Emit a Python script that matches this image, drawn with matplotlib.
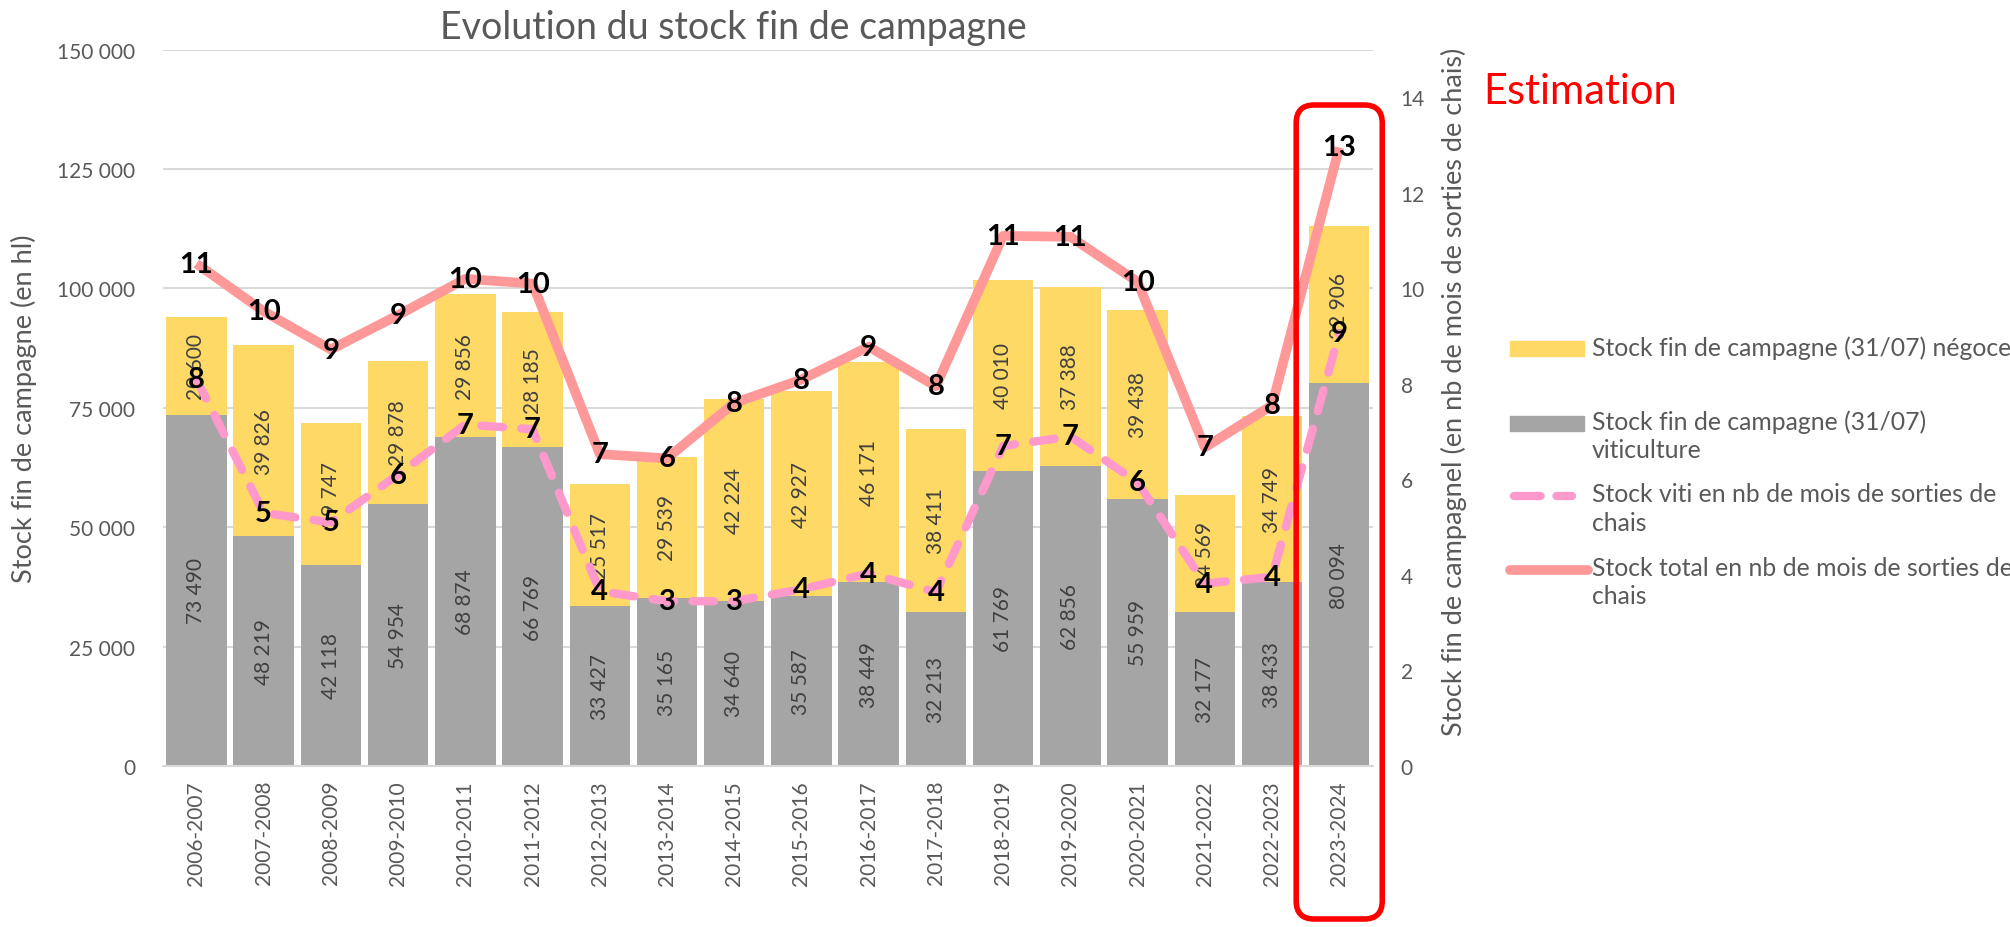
# Evolution du stock fin de campagne - bars empilés + lignes en mois de sorties

import matplotlib
matplotlib.use('Agg')
import matplotlib.pyplot as plt
import matplotlib.patches as patches
from matplotlib.lines import Line2D
from matplotlib.transforms import IdentityTransform
from matplotlib.ticker import FuncFormatter

campagnes = ['2006-2007', '2007-2008', '2008-2009', '2009-2010', '2010-2011', '2011-2012',
             '2012-2013', '2013-2014', '2014-2015', '2015-2016', '2016-2017', '2017-2018',
             '2018-2019', '2019-2020', '2020-2021', '2021-2022', '2022-2023', '2023-2024']
stock_viti = [73490, 48219, 42118, 54954, 68874, 66769, 33427, 35165, 34640, 35587, 38449,
              32213, 61769, 62856, 55959, 32177, 38433, 80094]
stock_negoce = [20600, 39826, 29747, 29878, 29856, 28185, 25517, 29539, 42224, 42927, 46171,
                38411, 40010, 37388, 39438, 24569, 34749, 32906]
mois_viti = [8.1, 5.3, 5.1, 6.1, 7.15, 7.05, 3.66, 3.45, 3.45, 3.7, 4.03, 3.64, 6.7, 6.9,
             5.94, 3.82, 3.96, 9.06]
mois_total = [10.52, 9.52, 8.72, 9.44, 10.2, 10.1, 6.53, 6.44, 7.6, 8.09, 8.78, 7.95, 11.1,
              11.08, 10.14, 6.67, 7.55, 12.95]

legend_labels = ['Stock fin de campagne (31/07) négoce',
                 'Stock fin de campagne (31/07)\nviticulture',
                 'Stock viti en nb de mois de sorties de\nchais',
                 'Stock total en nb de mois de sorties de\nchais']

YELLOW = '#FFD966'
GREY = '#A5A5A5'
PINK = '#FF99CC'
RED_LINE = '#FF9999'
TXT = '#595959'

plt.rcParams['font.family'] = ['Lato', 'DejaVu Sans']

fig = plt.figure(figsize=(20.1, 9.28), dpi=100)
ax = fig.add_axes([0.081, 0.1735, 0.602, 0.772])
x = list(range(len(campagnes)))

ax.bar(x, stock_viti, width=0.9, color=GREY, zorder=2)
ax.bar(x, stock_negoce, width=0.9, bottom=stock_viti, color=YELLOW, zorder=2)


def fmt_num(v):
    return f'{int(round(v)):,}'.replace(',', ' ')


for i in x:
    ax.text(i, stock_viti[i] / 2, fmt_num(stock_viti[i]), rotation=90, ha='center',
            va='center', color='#404040', fontsize=15, zorder=3)
    ax.text(i, stock_viti[i] + stock_negoce[i] / 2, fmt_num(stock_negoce[i]), rotation=90,
            ha='center', va='center', color='#404040', fontsize=15, zorder=3)

ax.set_xlim(-0.5, len(campagnes) - 0.5)
ax.set_ylim(0, 150000)
ax.set_yticks(range(0, 150001, 25000))
ax.yaxis.set_major_formatter(FuncFormatter(lambda v, p: fmt_num(v)))
ax.grid(axis='y', color='#D9D9D9', linewidth=1.5, zorder=0)
ax.set_axisbelow(True)
ax.set_xticks(x)
ax.set_xticklabels(campagnes, rotation=90)
ax.tick_params(axis='x', length=0, pad=10, labelsize=15, labelcolor=TXT)
ax.tick_params(axis='y', length=0, pad=20, labelsize=15, labelcolor=TXT)
for s in ['top', 'right', 'left']:
    ax.spines[s].set_visible(False)
ax.spines['bottom'].set_color('#D9D9D9')
ax.spines['bottom'].set_linewidth(1.5)
ax.set_ylabel('Stock fin de campagne (en hl)', fontsize=19.5, color=TXT)
ax.yaxis.set_label_coords(-0.104, 0.5)

ax2 = ax.twinx()
ax2.set_ylim(0, 15)
ax2.set_yticks(range(0, 15, 2))
ax2.tick_params(axis='y', length=0, pad=20, labelsize=15, labelcolor=TXT)
for s in ['top', 'right', 'left', 'bottom']:
    ax2.spines[s].set_visible(False)
ax2.set_ylabel('Stock fin de campagnel (en nb de mois de sorties de chais)', fontsize=19.5,
               color=TXT)
ax2.yaxis.set_label_coords(1.056, 0.524)

ax2.plot(x, mois_viti, color=PINK, linewidth=6, dashes=(2.6, 2.2), dash_capstyle='round',
         zorder=3)
ax2.plot(x, mois_total, color=RED_LINE, linewidth=7, solid_capstyle='butt', zorder=4)
for i in x:
    ax2.text(i, mois_viti[i], str(int(round(mois_viti[i]))), ha='center', va='center',
             fontsize=21, fontweight='bold', color='black', zorder=5)
    ax2.text(i, mois_total[i], str(int(round(mois_total[i]))), ha='center', va='center',
             fontsize=21, fontweight='bold', color='black', zorder=5)

fig.text(0.365, 0.97, 'Evolution du stock fin de campagne', ha='center', va='center',
         fontsize=27, color=TXT)
fig.text(0.738, 0.901, 'Estimation', ha='left', va='center', fontsize=30, color='#FF0000')

# cadre rouge autour de la dernière campagne (estimation)
fig.canvas.draw()
last = len(campagnes) - 1
x0 = ax.transData.transform((last - 0.64, 0))[0]
x1 = ax.transData.transform((last + 0.64, 0))[0]
box = patches.FancyBboxPatch((x0, 8), x1 - x0, 814,
                             boxstyle='round,pad=0,rounding_size=18', transform=IdentityTransform(),
                             fill=False, edgecolor='#FF0000', linewidth=4, zorder=10)
fig.add_artist(box)

# légende manuelle (symbole aligné sur la première ligne du texte)
leg_y = [0.623, 0.543, 0.464, 0.385]
hx0, hx1, tx = 0.751, 0.788, 0.792
fig.add_artist(patches.Rectangle((hx0, leg_y[0] - 0.008), hx1 - hx0, 0.016, color=YELLOW,
                                 transform=fig.transFigure))
fig.add_artist(patches.Rectangle((hx0, leg_y[1] - 0.008), hx1 - hx0, 0.016, color=GREY,
                                 transform=fig.transFigure))
fig.add_artist(Line2D([hx0 + 0.002, hx1 - 0.006], [leg_y[2], leg_y[2]], color=PINK, linewidth=6,
                      dashes=(3.2, 1.9), dash_capstyle='round', transform=fig.transFigure))
fig.add_artist(Line2D([hx0, hx1 + 0.002], [leg_y[3], leg_y[3]], color=RED_LINE, linewidth=7,
                      solid_capstyle='round', transform=fig.transFigure))
for lab, ly in zip(legend_labels, leg_y):
    fig.text(tx, ly + 0.015, lab, ha='left', va='top', fontsize=17.8, color=TXT,
             linespacing=1.3)

fig.savefig('out.png', dpi=100)
